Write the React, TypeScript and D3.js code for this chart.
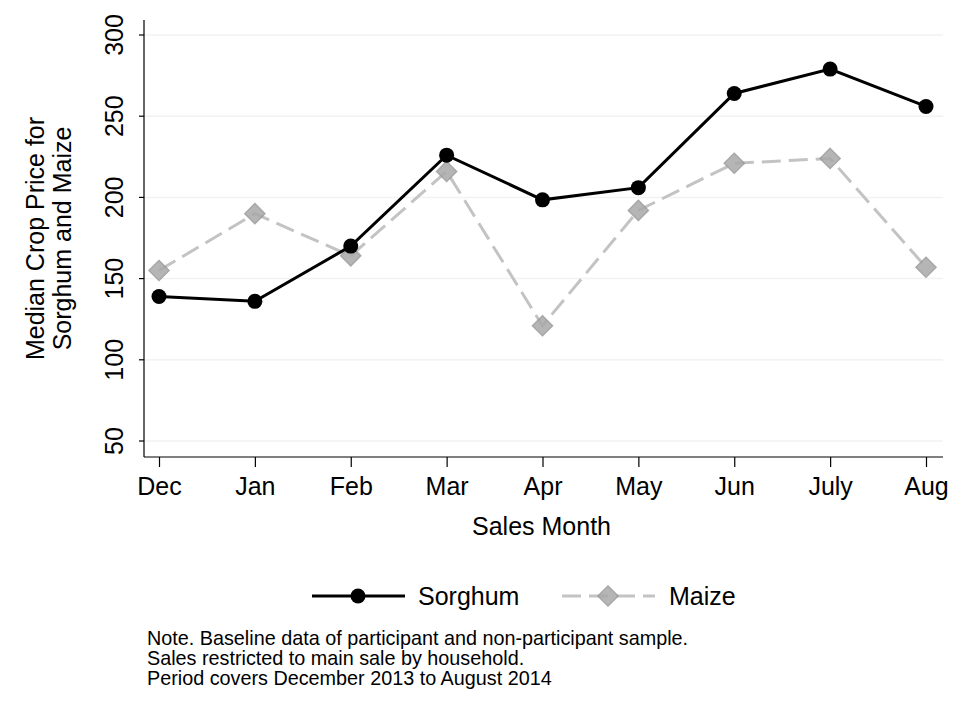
import { useEffect, useRef } from "react"
import * as d3 from "d3"

const months = ["Dec", "Jan", "Feb", "Mar", "Apr", "May", "Jun", "July", "Aug"]
const sorghum = [139, 136, 170, 226, 198.5, 206, 264, 279, 256]
const maize = [155, 190, 164, 216, 121, 192, 221, 224, 157]
const yTicks = [50, 100, 150, 200, 250, 300]
const noteLines = [
  "Note. Baseline data of participant and non-participant sample.",
  "Sales restricted to main sale by household.",
  "Period covers December 2013 to August 2014",
]

const FONT = "Arial, 'Liberation Sans', Helvetica, sans-serif"
const FS = "25px"

export default function App() {
  const svgRef = useRef<SVGSVGElement>(null)
  const width = 977
  const height = 702

  useEffect(() => {
    if (!svgRef.current) return
    const svg = d3.select(svgRef.current)
    svg.selectAll("*").remove()

    // plot frame
    const left = 144
    const right = 943
    const top = 20
    const bottom = 457

    const x = d3.scalePoint<string>().domain(months).range([159, 926])
    const y = d3.scaleLinear().domain([50, 300]).range([441, 35])

    svg.append("rect").attr("width", width).attr("height", height).attr("fill", "#ffffff")

    // gridlines
    svg
      .append("g")
      .selectAll("line")
      .data(yTicks)
      .enter()
      .append("line")
      .attr("x1", left)
      .attr("x2", right)
      .attr("y1", (d) => y(d))
      .attr("y2", (d) => y(d))
      .attr("stroke", "#f2f2f2")
      .attr("stroke-width", 1.5)

    // y axis
    const yAxis = svg.append("g").attr("transform", `translate(${left},0)`)
    yAxis
      .call(d3.axisLeft(y).tickValues(yTicks).tickSize(5).tickPadding(0).tickFormat((d) => String(d)))
    yAxis.select(".domain").remove()
    yAxis.selectAll("line").attr("stroke", "#000").attr("stroke-width", 1.2)
    yAxis
      .selectAll("text")
      .attr("x", null)
      .attr("dy", null)
      .attr("transform", (d: any) => `translate(-21,${y(d)}) rotate(-90)`)
      .attr("y", 0)
      .attr("text-anchor", "middle")
      .attr("fill", "#000")
      .style("font-family", FONT)
      .style("font-size", FS)
    yAxis.selectAll(".tick").attr("transform", null)
    yAxis.selectAll(".tick line").attr("transform", (d: any) => `translate(0,${y(d)})`)
    svg
      .append("line")
      .attr("x1", left)
      .attr("x2", left)
      .attr("y1", top)
      .attr("y2", bottom)
      .attr("stroke", "#000")
      .attr("stroke-width", 1.2)

    // x axis
    const xAxis = svg.append("g").attr("transform", `translate(0,${bottom})`)
    xAxis.call(d3.axisBottom(x).tickSize(10).tickPadding(10))
    xAxis.select(".domain").remove()
    xAxis.selectAll("line").attr("stroke", "#000").attr("stroke-width", 1.2)
    xAxis
      .selectAll("text")
      .attr("fill", "#000")
      .style("font-family", FONT)
      .style("font-size", FS)
    svg
      .append("line")
      .attr("x1", left)
      .attr("x2", right)
      .attr("y1", bottom)
      .attr("y2", bottom)
      .attr("stroke", "#000")
      .attr("stroke-width", 1.2)

    // axis titles
    svg
      .append("text")
      .attr("x", (left + right) / 2 - 2)
      .attr("y", 535)
      .attr("text-anchor", "middle")
      .style("font-family", FONT)
      .style("font-size", FS)
      .text("Sales Month")

    const yt = svg
      .append("text")
      .attr("transform", `translate(0,${(top + bottom) / 2}) rotate(-90)`)
      .attr("text-anchor", "middle")
      .style("font-family", FONT)
      .style("font-size", FS)
    yt.append("tspan").attr("x", 0).attr("y", 44).text("Median Crop Price for")
    yt.append("tspan").attr("x", 0).attr("y", 71).text("Sorghum and Maize")

    // lines
    const line = d3
      .line<number>()
      .x((_, i) => x(months[i]) as number)
      .y((d) => y(d))

    svg
      .append("path")
      .datum(maize)
      .attr("d", line)
      .attr("fill", "none")
      .attr("stroke", "#c3c3c3")
      .attr("stroke-width", 3)
      .attr("stroke-dasharray", "19,8")

    const diamond = (cx: number, cy: number, r: number) =>
      `M${cx},${cy - r}L${cx + r},${cy}L${cx},${cy + r}L${cx - r},${cy}Z`

    svg
      .append("g")
      .selectAll("path")
      .data(maize)
      .enter()
      .append("path")
      .attr("d", (d, i) => diamond(x(months[i]) as number, y(d), 10))
      .attr("fill", "#a9a9a9")
      .attr("stroke", "#999999")
      .attr("stroke-width", 1.5)
      .attr("opacity", 0.85)

    svg
      .append("path")
      .datum(sorghum)
      .attr("d", line)
      .attr("fill", "none")
      .attr("stroke", "#000")
      .attr("stroke-width", 3)

    svg
      .append("g")
      .selectAll("circle")
      .data(sorghum)
      .enter()
      .append("circle")
      .attr("cx", (_, i) => x(months[i]) as number)
      .attr("cy", (d) => y(d))
      .attr("r", 7.5)
      .attr("fill", "#000")

    // legend
    const lg = svg.append("g")
    lg.append("line").attr("x1", 312).attr("x2", 405).attr("y1", 596).attr("y2", 596).attr("stroke", "#000").attr("stroke-width", 3)
    lg.append("circle").attr("cx", 358).attr("cy", 596).attr("r", 7.5).attr("fill", "#000")
    lg.append("text").attr("x", 418).attr("y", 605).style("font-family", FONT).style("font-size", FS).text("Sorghum")

    lg.append("line")
      .attr("x1", 562)
      .attr("x2", 655)
      .attr("y1", 596)
      .attr("y2", 596)
      .attr("stroke", "#c3c3c3")
      .attr("stroke-width", 3)
      .attr("stroke-dasharray", "19,8")
    lg.append("path")
      .attr("d", diamond(608, 596, 10))
      .attr("fill", "#a9a9a9")
      .attr("stroke", "#999999")
      .attr("stroke-width", 1.5)
      .attr("opacity", 0.85)
    lg.append("text").attr("x", 669).attr("y", 605).style("font-family", FONT).style("font-size", FS).text("Maize")

    // note
    svg
      .append("g")
      .selectAll("text")
      .data(noteLines)
      .enter()
      .append("text")
      .attr("x", 147)
      .attr("y", (_, i) => 645 + i * 20)
      .style("font-family", FONT)
      .style("font-size", "19.8px")
      .text((d) => d)
  }, [])

  return (
    <div style={{ position: "absolute", left: 0, top: 0 }}>
      <svg ref={svgRef} width={width} height={height} style={{ display: "block" }} />
    </div>
  )
}
